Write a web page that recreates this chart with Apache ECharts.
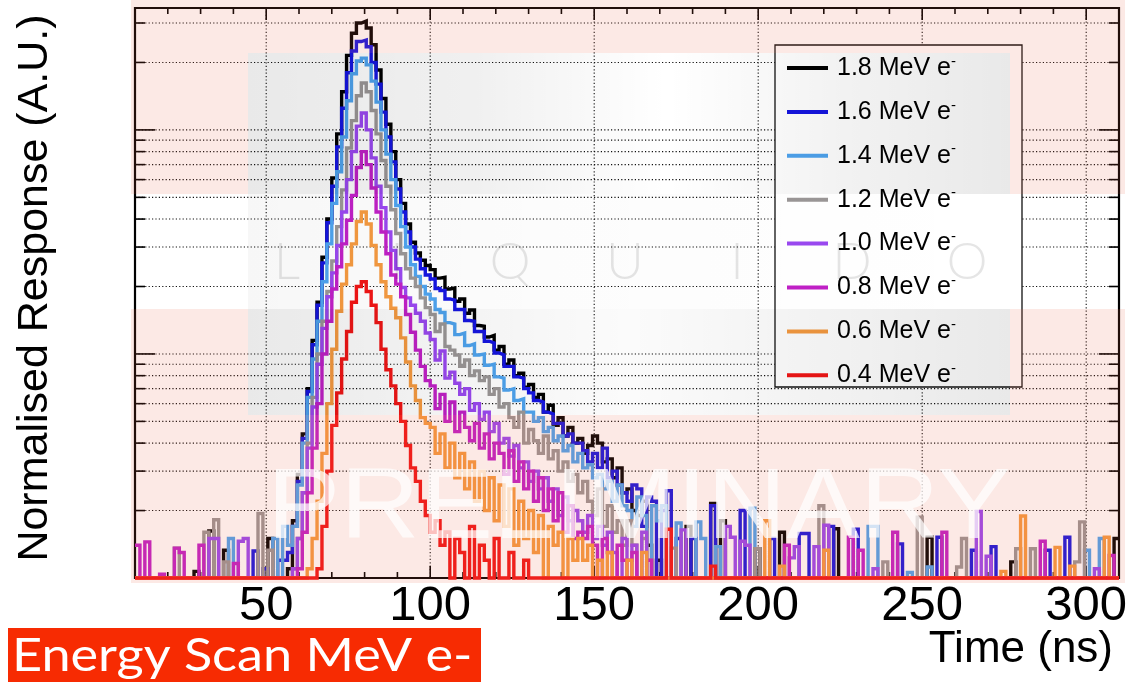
<!DOCTYPE html>
<html><head><meta charset="utf-8">
<script src="https://cdn.jsdelivr.net/npm/echarts@6/dist/echarts.min.js"></script>
<style>html,body{margin:0;padding:0;background:#fff}#c{width:1132px;height:692px}</style>
</head><body><div id="c"></div>
<script>
// ---------- data ----------
const seriesNames = ['1.8 MeV e','1.6 MeV e','1.4 MeV e','1.2 MeV e','1.0 MeV e','0.8 MeV e','0.6 MeV e','0.4 MeV e'];
const seriesColors = ['#000000','#1515e0','#4ea3ee','#9a9696','#9a48f0','#c020c6','#f59a40','#f01515'];
const binStart = 10, binWidth = 1.5, binCount = 200, signalStart = 55;
const xMin = 10, xMax = 310, yMin = 10, yMax = 3500;
const xTickLabels = [50,100,150,200,250,300];
const yDecades = [100,1000];
const yGridValues = [20,30,40,50,60,70,80,90,100,200,300,400,500,600,700,800,900,1000,2000,3000];

// signal bins (1.5 ns wide) starting at t = 55 ns
const sig18 = [0,11,18,29,44,70,115,170,270,400,
 610,960,1480,2150,2700,3000,3060,2850,2400,1850,
 1380,1060,800,600,470,380,315,282,262,248,
 238,218,220,195,197,172,176,152,157,134,
 133,119,121,104,108,90,94,80,82,71,
 73,64,66,55,59,48,52,43,47,40,
 42,36,39,43,40,33,34,28,31,24,
 25,20,19,22,14,0,12];
const sig16 = [12,13,17,27,42,68,110,165,255,385,
 560,840,1250,1800,2250,2480,2520,2350,2000,1600,
 1200,930,720,545,430,350,300,265,240,225,
 216,196,192,176,174,158,158,141,140,126,
 126,114,112,101,99,88,88,79,78,70,
 67,62,61,55,54,49,49,43,44,40,
 40,37,33,36,31,38,28,30,26,24,
 22,26,25,17,23,22,0,20];
const sig14 = [17,14,17,26,40,64,95,140,210,310,
 470,650,930,1350,1780,2030,2090,1950,1650,1330,
 1000,780,600,460,370,300,250,222,200,185,
 176,158,153,138,136,122,124,109,111,99,
 100,89,90,79,78,69,70,62,63,55,
 55,50,52,45,47,41,43,37,39,33,
 36,31,32,28,29,25,27,22,26,21,
 20,17,23,19,0,21,18,21,0];
const sig12 = [0,0,11,15,24,40,64,100,140,190,
 260,370,540,830,1100,1420,1620,1480,1220,960,
 730,560,440,345,280,240,218,200,178,161,
 150,126,136,108,104,99,88,94,80,84,
 76,79,66,70,58,60,52,47,55,40,
 46,41,36,43,34,37,30,33,27,29,
 24,27,22,19,25,17,21,16,18,14,
 18,14,0,15,12];
const sig10 = [0,0,11,15,24,38,58,90,130,180,
 230,305,430,600,800,1040,1190,1000,750,560,
 450,350,290,240,198,178,165,152,140,124,
 116,94,103,78,83,74,66,70,56,60,
 51,55,45,49,40,42,35,39,31,33,
 27,30,25,28,22,25,19,23,18,20,
 18,16,19,15,17,14,16,13,0,15,
 12,14,0,16];
const sig08 = [0,0,0,11,16,24,38,60,100,140,
 195,245,310,395,510,680,800,700,550,430,
 350,280,225,205,180,150,125,104,88,76,
 72,57,66,50,61,45,55,47,41,49,
 38,44,34,40,36,29,37,27,33,25,
 30,22,28,20,25,18,24,16,21,15,
 16,15,17,14,0,15,13,0,14,12,
 0,13,0,0,12];
const sig06 = [0,0,0,0,0,11,15,22,36,60,
 105,155,205,250,310,390,430,380,305,250,
 210,180,160,145,118,92,72,62,52,49,
 47,36,44,31,40,28,36,25,33,22,
 30,20,28,18,26,17,25,14,22,15,
 20,13,19,0,17,14,16,0,15,12,
 15,12,14,0,12,0,13];
const sig04 = [0,0,0,0,0,0,0,11,17,30,
 48,67,95,126,170,200,210,190,165,138,
 105,85,72,60,50,39,31,27,22,19,
 16,18,14,16,0,15,13,0,17,0,
 14,12,0,15,0,0,13,0,0,12];

// isolated noise bins [time ns, response]
const spk18 = [[29,10.7],[33,16.2],[37.5,13.3],[51,15],[178.5,17],[186,21.5],[189,18],[199.5,13.5],[207,16],[223.5,16.6],[252,15.2],[277.5,11.8],[309,15]];
const spk16 = [[46.5,13.2],[49.5,11],[54,12],[172.5,24.5],[175.5,15],[180,15],[186,21],[195,20],[204,15],[213,15.8],[214.5,15.8],[222,17],[229.5,16.5],[243,14.2],[255,15.2],[265.5,13.3],[271.5,13.8],[288,13.3],[294,15.2]];
const spk14 = [[39,15],[52.5,15],[175.5,17.6],[181.5,17.8],[183,15],[187.5,13.8],[198,20.5],[234,17],[235.5,17],[246,10.6],[252,11.2],[300,13.3],[304.5,15]];
const spk12 = [[22.5,13.6],[31.5,16],[34.5,18.2],[37.5,11.8],[48,19.4],[51,13.3],[174,13.6],[199.5,13.5],[219,21],[238.5,11.8],[249,18.7],[261,11.2],[262.5,15],[279,13.5],[283.5,13.5],[297,11.8],[298.5,17.8]];
const spk10 = [[33,15],[34.5,15],[42,14.6],[43.5,15],[177,16.4],[190.5,17],[192,15.2],[195,14.6],[196.5,14],[210,12.3],[211.5,13.8],[217.5,13.8],[220.5,17.2],[235.5,11],[267,19.8],[270,12.5],[303,11]];
const spk08 = [[11,14],[14,14.5],[18,10.4],[22.5,13.6],[24,13],[30,14],[40.5,11.6],[208.5,14],[228,15.2],[231,13.3],[241.5,16],[256.5,16],[286.5,14.6],[307.5,12.6]];
const spk06 = [[160.5,12],[165,13],[202.5,18],[207,11.3],[220.5,13.3],[274.5,10.7],[280.5,18.9],[291,13.7],[295.5,11.3],[306,15.2]];
const spk04 = [[172.5,16.5],[186,11.3]];

const signals = [sig18,sig16,sig14,sig12,sig10,sig08,sig06,sig04];
const spikes = [spk18,spk16,spk14,spk12,spk10,spk08,spk06,spk04];

// ---------- build ----------
function histPoints(sig, spk) {
  const vals = new Array(binCount).fill(0);
  const s0 = Math.round((signalStart - binStart) / binWidth);
  sig.forEach((v, k) => { vals[s0 + k] = v; });
  spk.forEach(([t, v]) => { vals[Math.floor((t - binStart) / binWidth)] = v; });
  const pts = vals.map((v, i) => [binStart + i * binWidth, v > 0 ? v : yMin]);
  pts.push([binStart + binCount * binWidth, pts[pts.length - 1][1]]);
  return pts;
}

const lineSeries = seriesNames.map((name, k) => ({
  name, type: 'line', step: 'end', symbol: 'none', clip: false, z: 2 + k * 0.01,
  data: histPoints(signals[k], spikes[k]),
  color: seriesColors[k],
  itemStyle: {color: seriesColors[k]},
  lineStyle: {color: seriesColors[k], width: 3.4, join: 'miter'},
  emphasis: {disabled: true}
}));

const xMinorTicks = [];
for (let v = xMin + 10; v < xMax; v += 10) xMinorTicks.push(v);

const frameSeries = {
  type: 'custom', z: 1, silent: true, clip: false,
  data: [[xMin, yMin]],
  renderItem: (params, api) => {
    const cs = params.coordSys;
    const L = cs.x, T = cs.y, R = cs.x + cs.width, B = cs.y + cs.height;
    const kids = [];
    const dotted = {stroke: '#111', lineWidth: 1.1, lineDash: [1.2, 2.2]};
    const solid = {stroke: '#000', lineWidth: 1.6};
    yGridValues.forEach(v => {
      const y = api.coord([xMin, v])[1];
      const len = yDecades.includes(v) ? 20 : 10;
      kids.push({type: 'line', shape: {x1: L, y1: y, x2: R, y2: y}, style: dotted});
      kids.push({type: 'line', shape: {x1: L, y1: y, x2: L + len, y2: y}, style: solid});
      kids.push({type: 'line', shape: {x1: R - len, y1: y, x2: R, y2: y}, style: solid});
    });
    xMinorTicks.forEach(v => {
      const x = api.coord([v, yMin])[0];
      const major = xTickLabels.includes(v);
      const len = major ? 12 : 6;
      if (major) kids.push({type: 'line', shape: {x1: x, y1: T, x2: x, y2: B}, style: dotted});
      kids.push({type: 'line', shape: {x1: x, y1: T, x2: x, y2: T + len}, style: solid});
      kids.push({type: 'line', shape: {x1: x, y1: B, x2: x, y2: B - len}, style: solid});
    });
    kids.push({type: 'rect', shape: {x: L, y: T, width: R - L, height: B - T}, style: {fill: 'none', stroke: '#000', lineWidth: 2.2}});
    return {type: 'group', children: kids};
  }
};

// ---------- watermark / decorations ----------
const pink = 'rgba(234,100,70,0.14)';
function rectEl(x, y, w, h, fill, z) { return {type: 'rect', shape: {x, y, width: w, height: h}, style: {fill}, z, silent: true}; }
function greyGrad(stops) {
  return {type: 'linear', x: 0, y: 0, x2: 1, y2: 0,
    colorStops: stops.map(([o, a]) => ({offset: o, color: 'rgba(0,0,0,' + a + ')'}))};
}
const letters = ['L','I','Q','U','I','D','O'];
const letterX = [287,397,510,625,737,852,967];

const graphics = [
  // legend frame
  {type: 'rect', shape: {x: 775, y: 45, width: 247, height: 342}, style: {fill: '#fff', stroke: '#111', lineWidth: 1.3}, z: 3, silent: true},
  // pink tint
  rectEl(131, 0, 994, 53, pink, 20),
  rectEl(131, 53, 117, 141, pink, 20),
  rectEl(1010, 53, 115, 141, pink, 20),
  rectEl(131, 309, 117, 106, pink, 20),
  rectEl(1010, 309, 115, 106, pink, 20),
  rectEl(131, 415, 994, 168, pink, 20),
  // grey logo box
  rectEl(248, 53, 762, 141, greyGrad([[0, 0.085], [0.3, 0.06], [0.55, 0.0], [0.78, 0.05], [1, 0.085]]), 20),
  rectEl(248, 309, 762, 106, greyGrad([[0, 0.085], [0.25, 0.05], [0.5, 0.015], [0.75, 0.05], [1, 0.085]]), 20),
  rectEl(248, 194, 762, 115, greyGrad([[0, 0.03], [0.4, 0.01], [1, 0.0]]), 20),
  // letters
  ...letters.map((ch, i) => ({type: 'text', x: letterX[i], y: 262, z: 21, silent: true,
    style: {text: ch, align: 'center', verticalAlign: 'middle', font: '300 52px Lato', fill: 'rgba(0,0,0,0.1)'}})),
  // PRELIMINARY
  {type: 'text', x: 267, y: 510, scaleX: 1.1, z: 22, silent: true,
    style: {text: 'PRELIMINARY', align: 'left', verticalAlign: 'middle', font: '100px "Liberation Sans"', fill: 'rgba(255,255,255,0.72)'}},
  // x axis title
  {type: 'text', x: 1113, y: 650, z: 5, silent: true,
    style: {text: 'Time (ns)', align: 'right', verticalAlign: 'middle', font: '44px "Liberation Sans"', fill: '#000'}},
  // caption box
  {type: 'rect', shape: {x: 8, y: 628, width: 473, height: 54}, style: {fill: '#f72b02'}, z: 5, silent: true},
  {type: 'text', x: 12, y: 656, scaleX: 1.135, z: 6, silent: true,
    style: {text: 'Energy Scan MeV e-', align: 'left', verticalAlign: 'middle', font: '46px Lato', fill: '#fff'}}
];

const option = {
  backgroundColor: '#fff',
  animation: false,
  grid: {left: 135, top: 8, right: 13, bottom: 114, containLabel: false},
  xAxis: {
    type: 'value', min: xMin, max: xMax, interval: 10,
    axisLine: {show: false}, axisTick: {show: false}, splitLine: {show: false},
    axisLabel: {
      margin: 4, color: '#000', fontFamily: 'Liberation Sans', fontSize: 49,
      formatter: v => xTickLabels.includes(v) ? String(v) : ''
    }
  },
  yAxis: {
    type: 'log', logBase: 10, min: yMin, max: yMax,
    name: 'Normalised Response (A.U.)', nameLocation: 'middle', nameRotate: 90, nameGap: 78,
    nameTextStyle: {fontFamily: 'Liberation Sans', fontSize: 43, color: '#000', padding: [0, 0, 0, 10]},
    axisLine: {show: false}, axisTick: {show: false}, splitLine: {show: false}, axisLabel: {show: false}
  },
  legend: {
    orient: 'vertical', left: 787, top: 54, padding: 0, itemGap: 17.4,
    itemWidth: 41, itemHeight: 4, icon: 'rect', selectedMode: false,
    data: seriesNames,
    formatter: n => '{t|' + n + '}{s|-}',
    textStyle: {
      fontFamily: 'Liberation Sans', fontSize: 25, color: '#000',
      rich: {
        t: {fontFamily: 'Liberation Sans', fontSize: 25, lineHeight: 28, color: '#000', padding: [0, 0, 0, 4]},
        s: {fontFamily: 'Liberation Sans', fontSize: 15, lineHeight: 14, verticalAlign: 'top', color: '#000'}
      }
    }
  },
  graphic: graphics,
  series: [frameSeries, ...lineSeries]
};

const chart = echarts.init(document.getElementById('c'), null, {renderer: 'canvas'});
chart.setOption(option);
</script>
</body></html>
